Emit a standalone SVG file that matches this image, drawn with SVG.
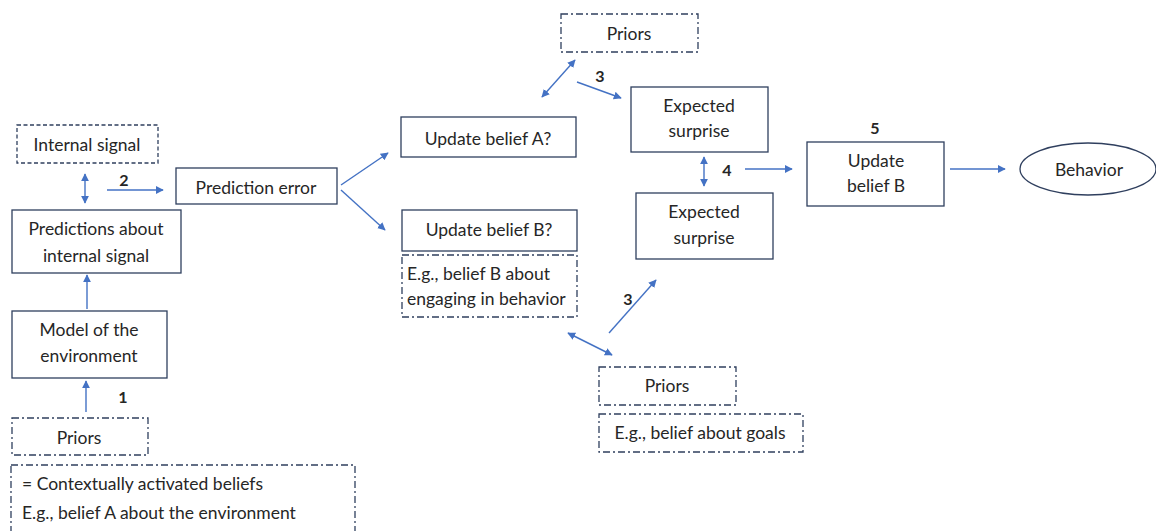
<svg xmlns="http://www.w3.org/2000/svg" width="1156" height="531" viewBox="0 0 1156 531">
  <style>
    text { font-family: Lato, "Open Sans", sans-serif; font-size: 17.5px; fill: #262626; text-anchor: middle; dominant-baseline: central; }
    .num { font-weight: bold; font-size: 16px; }
    .left { text-anchor: start; }
    .box { fill: #fff; stroke: #2f3f5e; stroke-width: 1.3; }
    .dash { fill: #fff; stroke: #2f3f5e; stroke-width: 1.3; stroke-dasharray: 4 2.5; }
    .dashdot { fill: #fff; stroke: #2f3f5e; stroke-width: 1.3; stroke-dasharray: 7 3 2 3; }
    .arrow { fill: none; stroke: #4472c4; stroke-width: 1.4; marker-end: url(#head); }
    .both { fill: none; stroke: #4472c4; stroke-width: 1.4; marker-start: url(#tail); marker-end: url(#head); }
  </style>
  <defs>
    <marker id="head" viewBox="0 0 10 10" refX="9" refY="5" markerWidth="8" markerHeight="8" markerUnits="userSpaceOnUse" orient="auto">
      <path d="M0,0 L10,5 L0,10 z" fill="#4472c4"/>
    </marker>
    <marker id="tail" viewBox="0 0 10 10" refX="1" refY="5" markerWidth="8" markerHeight="8" markerUnits="userSpaceOnUse" orient="auto">
      <path d="M10,0 L0,5 L10,10 z" fill="#4472c4"/>
    </marker>
  </defs>
  <rect width="1156" height="531" fill="#fff"/>

  <g id="connectors">
    <line class="both" x1="85" y1="174" x2="85" y2="203"/>
    <line class="arrow" x1="107" y1="190" x2="163" y2="190"/>
    <line class="arrow" x1="87" y1="309" x2="87" y2="275"/>
    <line class="arrow" x1="86" y1="412" x2="86" y2="381"/>
    <line class="arrow" x1="341" y1="185" x2="388" y2="153"/>
    <line class="arrow" x1="341" y1="190" x2="385" y2="230"/>
    <line class="both" x1="542" y1="97" x2="575" y2="60"/>
    <line class="arrow" x1="577" y1="82" x2="621" y2="98"/>
    <line class="both" x1="704" y1="157" x2="704" y2="186"/>
    <line class="arrow" x1="745" y1="169" x2="792" y2="169"/>
    <line class="arrow" x1="950" y1="169" x2="1005" y2="169"/>
    <line class="both" x1="568" y1="333" x2="612" y2="355"/>
    <line class="arrow" x1="609" y1="333" x2="656" y2="280"/>
    <text class="num" x="124" y="179">2</text>
    <text class="num" x="123" y="396">1</text>
    <text class="num" x="600" y="75">3</text>
    <text class="num" x="727" y="169">4</text>
    <text class="num" x="628" y="298">3</text>
    <text class="num" x="875" y="127">5</text>
  </g>

  <g id="internal-signal">
    <rect class="dash" x="17" y="125" width="141" height="38"/>
    <text x="87" y="144">Internal signal</text>
  </g>
  <g id="predictions">
    <rect class="box" x="12" y="210" width="169" height="63"/>
    <text x="96" y="228">Predictions about</text>
    <text x="96" y="255">internal signal</text>
  </g>
  <g id="model">
    <rect class="box" x="12" y="311" width="155" height="67"/>
    <text x="89" y="329">Model of the</text>
    <text x="89" y="355">environment</text>
  </g>
  <g id="priors-1">
    <rect class="dashdot" x="12" y="418" width="136" height="37"/>
    <text x="79" y="437">Priors</text>
  </g>
  <g id="priors-note">
    <rect class="dashdot" x="11" y="465" width="344" height="80"/>
    <text class="left" x="22" y="483">= Contextually activated beliefs</text>
    <text class="left" x="22" y="512">E.g., belief A about the environment</text>
  </g>
  <g id="prediction-error">
    <rect class="box" x="176" y="168" width="161" height="36"/>
    <text x="256" y="187">Prediction error</text>
  </g>
  <g id="update-a">
    <rect class="box" x="401" y="117" width="175" height="40"/>
    <text x="488" y="138">Update belief A?</text>
  </g>
  <g id="update-b-q">
    <rect class="box" x="402" y="210" width="175" height="41"/>
    <text x="489" y="229">Update belief B?</text>
  </g>
  <g id="belief-b-note">
    <rect class="dashdot" x="402" y="255" width="175" height="62"/>
    <text class="left" x="407" y="273">E.g., belief B about</text>
    <text class="left" x="407" y="298">engaging in behavior</text>
  </g>
  <g id="priors-top">
    <rect class="dashdot" x="561" y="14" width="137" height="38"/>
    <text x="629" y="33">Priors</text>
  </g>
  <g id="surprise-top">
    <rect class="box" x="631" y="87" width="137" height="65"/>
    <text x="699" y="105">Expected</text>
    <text x="699" y="130">surprise</text>
  </g>
  <g id="surprise-bottom">
    <rect class="box" x="636" y="193" width="137" height="66"/>
    <text x="704" y="211">Expected</text>
    <text x="704" y="237">surprise</text>
  </g>
  <g id="priors-bottom">
    <rect class="dashdot" x="599" y="367" width="137" height="38"/>
    <text x="667" y="385">Priors</text>
  </g>
  <g id="goals-note">
    <rect class="dashdot" x="599" y="414" width="204" height="38"/>
    <text x="700" y="432">E.g., belief about goals</text>
  </g>
  <g id="update-b">
    <rect class="box" x="807" y="142" width="137" height="64"/>
    <text x="876" y="160">Update</text>
    <text x="876" y="185">belief B</text>
  </g>
  <g id="behavior">
    <ellipse cx="1088" cy="169" rx="68" ry="26" fill="#fff" stroke="#2f3f5e" stroke-width="1.3"/>
    <text x="1089" y="169">Behavior</text>
  </g>
</svg>
